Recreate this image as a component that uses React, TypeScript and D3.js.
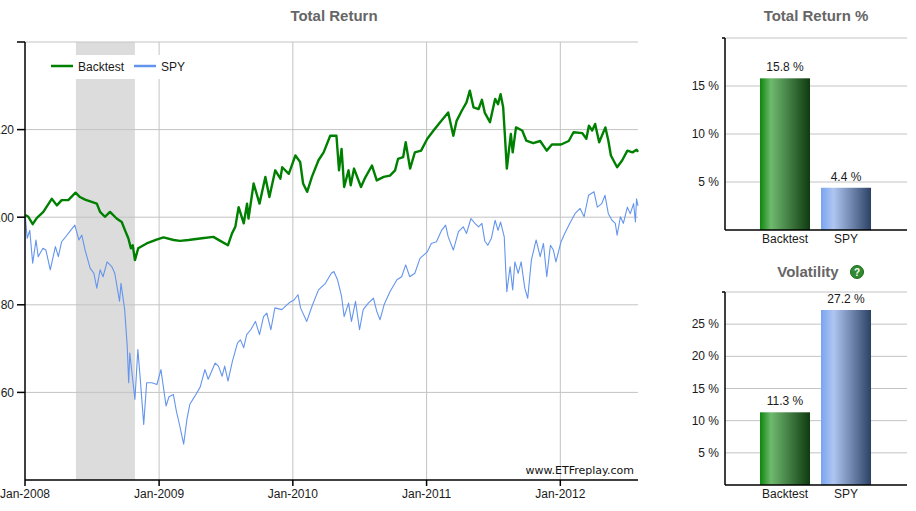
import React from 'react';
import * as d3 from 'd3';

// Total Return (growth of 100)
const backtestSeries: [string, number][] = [
  ['2008-01-02', 100.5], ['2008-01-10', 100.1], ['2008-01-22', 98.4], ['2008-02-02', 99.8],
  ['2008-02-20', 101.2], ['2008-03-14', 104.2], ['2008-03-28', 102.7], ['2008-04-10', 103.9],
  ['2008-04-28', 103.9], ['2008-05-18', 105.6], ['2008-05-30', 104.6], ['2008-06-13', 104.0],
  ['2008-07-01', 103.5], ['2008-07-15', 103.1], ['2008-07-24', 101.2], ['2008-08-06', 100.1],
  ['2008-08-20', 101.2], ['2008-09-07', 99.7], ['2008-09-21', 98.9], ['2008-09-30', 97.0],
  ['2008-10-09', 95.2], ['2008-10-16', 92.9], ['2008-10-21', 93.6], ['2008-10-27', 90.2],
  ['2008-11-05', 92.9], ['2008-11-28', 94.0], ['2008-12-25', 94.9], ['2009-01-13', 95.4],
  ['2009-02-10', 94.8], ['2009-02-27', 94.6], ['2009-03-22', 94.8], ['2009-04-28', 95.2],
  ['2009-05-29', 95.5], ['2009-06-17', 94.6], ['2009-07-08', 93.6], ['2009-07-19', 96.3],
  ['2009-07-28', 97.8], ['2009-08-06', 102.3], ['2009-08-20', 98.6], ['2009-08-29', 103.1],
  ['2009-09-02', 99.7], ['2009-09-16', 107.7], ['2009-10-02', 103.1], ['2009-10-18', 109.2],
  ['2009-10-29', 104.6], ['2009-11-14', 110.7], ['2009-11-28', 108.8], ['2009-12-03', 111.4],
  ['2009-12-21', 109.9], ['2010-01-08', 114.1], ['2010-01-21', 112.6], ['2010-01-29', 107.7],
  ['2010-02-09', 105.8], ['2010-02-22', 109.2], ['2010-03-12', 113.0], ['2010-03-26', 114.8],
  ['2010-04-13', 118.6], ['2010-04-30', 118.6], ['2010-05-07', 110.7], ['2010-05-14', 115.6],
  ['2010-05-21', 106.9], ['2010-06-02', 110.7], ['2010-06-08', 107.3], ['2010-06-17', 111.1],
  ['2010-07-06', 106.9], ['2010-07-16', 108.8], ['2010-08-05', 111.8], ['2010-08-18', 108.4],
  ['2010-09-06', 109.2], ['2010-09-23', 109.5], ['2010-10-07', 110.7], ['2010-10-15', 113.3],
  ['2010-10-29', 113.7], ['2010-11-05', 117.1], ['2010-11-17', 111.1], ['2010-11-30', 114.8],
  ['2010-12-17', 115.2], ['2011-01-03', 117.9], ['2011-01-20', 119.8], ['2011-02-07', 121.7],
  ['2011-03-01', 123.9], ['2011-03-15', 118.6], ['2011-03-24', 122.0], ['2011-04-07', 124.3],
  ['2011-04-20', 126.2], ['2011-04-29', 128.9], ['2011-05-09', 125.1], ['2011-05-23', 124.7],
  ['2011-06-01', 126.8], ['2011-06-09', 123.8], ['2011-06-23', 121.7], ['2011-07-07', 127.0],
  ['2011-07-15', 125.8], ['2011-07-22', 128.1], ['2011-07-29', 125.1], ['2011-08-03', 118.3],
  ['2011-08-08', 111.1], ['2011-08-19', 119.0], ['2011-08-24', 114.8], ['2011-09-02', 120.5],
  ['2011-09-19', 119.8], ['2011-09-30', 117.5], ['2011-10-19', 116.9], ['2011-11-07', 117.4],
  ['2011-11-25', 115.2], ['2011-12-09', 116.6], ['2012-01-03', 116.6], ['2012-01-24', 117.4],
  ['2012-02-06', 119.4], ['2012-03-01', 119.2], ['2012-03-12', 117.9], ['2012-03-19', 120.9],
  ['2012-03-28', 119.8], ['2012-04-05', 121.3], ['2012-04-16', 117.1], ['2012-05-03', 120.5],
  ['2012-05-11', 117.5], ['2012-05-18', 114.1], ['2012-06-04', 111.4], ['2012-06-18', 113.0],
  ['2012-07-02', 115.2], ['2012-07-16', 114.8], ['2012-07-27', 115.4], ['2012-07-31', 114.9],
];

const spySeries: [string, number][] = [
  ['2008-01-02', 100.0], ['2008-01-07', 95.2], ['2008-01-14', 97.0], ['2008-01-22', 89.5],
  ['2008-01-31', 94.8], ['2008-02-06', 91.0], ['2008-02-19', 92.9], ['2008-02-27', 92.5],
  ['2008-03-10', 88.0], ['2008-03-24', 93.3], ['2008-04-01', 91.0], ['2008-04-10', 94.4],
  ['2008-04-18', 95.2], ['2008-05-02', 96.7], ['2008-05-16', 98.2], ['2008-05-27', 94.8],
  ['2008-06-04', 95.9], ['2008-06-13', 92.5], ['2008-06-27', 88.3], ['2008-07-07', 87.2],
  ['2008-07-15', 83.8], ['2008-07-24', 88.0], ['2008-08-01', 86.4], ['2008-08-12', 89.8],
  ['2008-08-25', 88.7], ['2008-09-02', 87.2], ['2008-09-15', 80.8], ['2008-09-19', 84.9],
  ['2008-09-29', 78.9], ['2008-10-06', 70.5], ['2008-10-10', 62.2], ['2008-10-13', 69.0],
  ['2008-10-27', 58.4], ['2008-11-04', 69.8], ['2008-11-10', 63.7], ['2008-11-20', 52.7],
  ['2008-11-28', 62.2], ['2008-12-12', 62.2], ['2008-12-26', 61.8], ['2009-01-06', 65.2],
  ['2009-01-20', 56.9], ['2009-01-28', 59.0], ['2009-02-09', 59.5], ['2009-02-17', 55.8],
  ['2009-02-26', 52.5], ['2009-03-09', 48.2], ['2009-03-18', 53.9], ['2009-03-26', 57.3],
  ['2009-04-09', 59.2], ['2009-04-23', 61.2], ['2009-05-06', 65.2], ['2009-05-15', 63.0],
  ['2009-06-03', 66.7], ['2009-06-12', 66.0], ['2009-06-22', 63.7], ['2009-06-29', 66.0],
  ['2009-07-08', 62.6], ['2009-07-20', 67.1], ['2009-08-03', 71.3], ['2009-08-11', 72.0],
  ['2009-08-20', 70.2], ['2009-08-28', 73.2], ['2009-09-08', 74.3], ['2009-09-21', 76.2],
  ['2009-10-02', 73.2], ['2009-10-13', 77.3], ['2009-10-22', 78.1], ['2009-11-02', 74.3],
  ['2009-11-13', 79.3], ['2009-12-02', 78.9], ['2009-12-21', 80.4], ['2010-01-04', 81.1],
  ['2010-01-15', 82.3], ['2010-01-22', 79.3], ['2010-02-08', 76.2], ['2010-02-22', 79.6],
  ['2010-03-12', 83.4], ['2010-03-31', 84.9], ['2010-04-16', 87.2], ['2010-04-23', 87.6],
  ['2010-05-03', 85.7], ['2010-05-14', 81.9], ['2010-05-21', 77.3], ['2010-06-02', 80.4],
  ['2010-06-10', 76.2], ['2010-06-21', 80.8], ['2010-07-02', 74.3], ['2010-07-12', 78.9],
  ['2010-07-26', 80.4], ['2010-08-09', 81.5], ['2010-08-18', 78.5], ['2010-08-27', 76.6],
  ['2010-09-07', 80.0], ['2010-09-23', 83.0], ['2010-10-12', 85.7], ['2010-10-25', 86.4],
  ['2010-11-05', 89.1], ['2010-11-16', 86.4], ['2010-11-30', 87.2], ['2010-12-14', 90.6],
  ['2011-01-03', 92.1], ['2011-01-14', 94.0], ['2011-01-28', 94.4], ['2011-02-11', 97.0],
  ['2011-02-22', 98.2], ['2011-03-01', 95.5], ['2011-03-15', 92.5], ['2011-03-29', 96.7],
  ['2011-04-11', 97.8], ['2011-04-20', 96.3], ['2011-05-02', 99.7], ['2011-05-13', 98.6],
  ['2011-05-23', 97.8], ['2011-06-01', 98.6], ['2011-06-09', 94.5], ['2011-06-17', 93.6],
  ['2011-06-27', 95.2], ['2011-07-07', 99.3], ['2011-07-15', 97.0], ['2011-07-22', 98.9],
  ['2011-08-01', 95.5], ['2011-08-05', 88.0], ['2011-08-08', 83.0], ['2011-08-17', 88.7],
  ['2011-08-24', 83.4], ['2011-08-30', 89.8], ['2011-09-08', 87.2], ['2011-09-16', 89.8],
  ['2011-09-26', 83.8], ['2011-10-04', 81.5], ['2011-10-14', 90.2], ['2011-10-27', 94.8],
  ['2011-11-07', 91.0], ['2011-11-16', 94.0], ['2011-11-25', 86.4], ['2011-12-05', 93.6],
  ['2011-12-13', 92.5], ['2011-12-20', 89.8], ['2012-01-03', 94.4], ['2012-01-13', 96.3],
  ['2012-01-27', 98.6], ['2012-02-10', 100.8], ['2012-02-24', 102.0], ['2012-03-06', 100.1],
  ['2012-03-18', 105.0], ['2012-04-02', 105.8], ['2012-04-11', 102.3], ['2012-04-23', 103.1],
  ['2012-05-02', 105.0], ['2012-05-11', 100.8], ['2012-05-21', 99.3], ['2012-05-30', 98.6],
  ['2012-06-04', 95.9], ['2012-06-13', 100.1], ['2012-06-21', 98.6], ['2012-07-02', 102.3],
  ['2012-07-10', 100.8], ['2012-07-19', 103.1], ['2012-07-24', 98.9], ['2012-07-27', 104.2],
  ['2012-07-31', 102.6],
];

// shaded period
const shadeRange = ['2008-05-19', '2008-10-27'];
const yTickValues = [60, 80, 100, 120];
const yearTicks = ['2008-01-01', '2009-01-01', '2010-01-01', '2011-01-01', '2012-01-01'];

const barCategories = ['Backtest', 'SPY'];
const totalReturnPct = [15.8, 4.4];
const volatilityPct = [11.3, 27.2];
const totalReturnTicks = [5, 10, 15];
const volatilityTicks = [5, 10, 15, 20, 25];

const FONT = '"Liberation Sans", Arial, sans-serif';
const GRID = '#c3c3c3';
const TEXT = '#1a1a1a';
const GREEN = '#008000';
const BLUE = '#6495ed';

const parse = d3.timeParse('%Y-%m-%d');

function BarPanel(props: {
  title: string; values: number[]; ticks: number[]; max: number;
  top: number; bottom: number; titleY: number; help?: boolean;
}) {
  const { title, values, ticks, max, top, bottom, titleY, help } = props;
  const left = 725, right = 907;
  const y = d3.scaleLinear().domain([0, max]).range([bottom, top]);
  const x = d3.scaleBand().domain(barCategories).range([749, 882]).paddingInner(0.18).paddingOuter(0.18);
  const grads = ['url(#gradGreen)', 'url(#gradBlue)'];
  return (
    <g>
      <text x={help ? 808 : 816} y={titleY} textAnchor="middle" fontFamily={FONT} fontSize={15}
        fontWeight="bold" fill="#666">{title}</text>
      {help && (
        <g transform={`translate(857,${titleY - 5})`}>
          <circle r={6.5} fill="#2f8a2f" stroke="#1d6b1d" />
          <text y={4} textAnchor="middle" fontFamily={FONT} fontSize={10} fontWeight="bold" fill="#fff">?</text>
        </g>
      )}
      {[...ticks, max].map(t => (
        <line key={t} x1={left} x2={right} y1={y(t)} y2={y(t)} stroke={GRID} />
      ))}
      {ticks.map(t => (
        <text key={t} x={719} y={y(t) + 4} textAnchor="end" fontFamily={FONT} fontSize={12} fill={TEXT}>{t} %</text>
      ))}
      {values.map((v, i) => (
        <g key={i}>
          <rect x={x(barCategories[i])} y={y(v)} width={x.bandwidth()} height={bottom - y(v)} fill={grads[i]} />
          <text x={x(barCategories[i])! + x.bandwidth() / 2} y={y(v) - 7} textAnchor="middle"
            fontFamily={FONT} fontSize={12} fill={TEXT}>{v.toFixed(1)} %</text>
          <text x={x(barCategories[i])! + x.bandwidth() / 2} y={bottom + 13} textAnchor="middle"
            fontFamily={FONT} fontSize={12} fill={TEXT}>{barCategories[i]}</text>
        </g>
      ))}
      <line x1={left} x2={left} y1={top} y2={bottom} stroke="#000" strokeWidth={1.5} />
      <line x1={left - 3} x2={left} y1={top} y2={top} stroke="#000" strokeWidth={1.5} />
      <line x1={left} x2={right} y1={bottom} y2={bottom} stroke="#000" strokeWidth={1.5} />
    </g>
  );
}

export default function App() {
  const x = d3.scaleTime().domain([parse('2008-01-01')!, parse('2012-07-31')!]).range([25, 638]);
  const y = d3.scaleLinear().domain([40, 140]).range([480, 42]);
  const line = d3.line<[string, number]>().x(d => x(parse(d[0])!)).y(d => y(d[1]));
  const fmt = d3.timeFormat('%b-%Y');

  return (
    <svg width={916} height={511} style={{ position: 'absolute', left: 0, top: 0, background: '#fff' }}>
      <defs>
        <linearGradient id="gradGreen" x1="0" x2="1" y1="0" y2="0">
          <stop offset="0" stopColor="#0d870d" />
          <stop offset="0.22" stopColor="#6fb96f" />
          <stop offset="1" stopColor="#0f3a10" />
        </linearGradient>
        <linearGradient id="gradBlue" x1="0" x2="1" y1="0" y2="0">
          <stop offset="0" stopColor="#79a3ef" />
          <stop offset="0.25" stopColor="#afc6f1" />
          <stop offset="1" stopColor="#2c4165" />
        </linearGradient>
      </defs>

      <text x={334} y={21} textAnchor="middle" fontFamily={FONT} fontSize={15} fontWeight="bold" fill="#666">Total Return</text>

      {/* shaded band */}
      <rect x={x(parse(shadeRange[0])!)} y={42} width={x(parse(shadeRange[1])!) - x(parse(shadeRange[0])!)}
        height={438} fill="#dcdcdc" />

      {/* grid */}
      {[...yTickValues, 140].map(v => (
        <line key={v} x1={25} x2={638} y1={y(v)} y2={y(v)} stroke={GRID} />
      ))}
      {yearTicks.slice(1).map(d => (
        <line key={d} x1={x(parse(d)!)} x2={x(parse(d)!)} y1={42} y2={480} stroke={GRID} />
      ))}

      {/* legend */}
      <rect x={45} y={55} width={150} height={24} fill="#fff" />
      <line x1={51} x2={73} y1={66} y2={66} stroke={GREEN} strokeWidth={2.5} />
      <text x={78} y={71} fontFamily={FONT} fontSize={12} fill={TEXT}>Backtest</text>
      <line x1={134} x2={156} y1={66} y2={66} stroke={BLUE} strokeWidth={2.5} />
      <text x={161} y={71} fontFamily={FONT} fontSize={12} fill={TEXT}>SPY</text>

      {/* series */}
      <path d={line(spySeries)!} fill="none" stroke={BLUE} strokeWidth={1.1} strokeLinejoin="round" />
      <path d={line(backtestSeries)!} fill="none" stroke={GREEN} strokeWidth={2.4} strokeLinejoin="round" />

      {/* axes */}
      <line x1={25} x2={25} y1={42} y2={480} stroke="#000" strokeWidth={1.5} />
      <line x1={17} x2={25} y1={42} y2={42} stroke="#000" strokeWidth={1.5} />
      {yTickValues.map(v => (
        <g key={v}>
          <line x1={17} x2={25} y1={y(v)} y2={y(v)} stroke="#000" strokeWidth={1.5} />
          <text x={14} y={y(v) + 4.5} textAnchor="end" fontFamily={FONT} fontSize={12} fill={TEXT}>{v}</text>
        </g>
      ))}
      <line x1={25} x2={638} y1={480} y2={480} stroke="#000" strokeWidth={1.5} />
      {yearTicks.map(d => (
        <g key={d}>
          <line x1={x(parse(d)!)} x2={x(parse(d)!)} y1={480} y2={486} stroke="#000" strokeWidth={1.5} />
          <text x={x(parse(d)!)} y={498} textAnchor="middle" fontFamily={FONT} fontSize={12} fill={TEXT}>
            {fmt(parse(d)!)}
          </text>
        </g>
      ))}
      <text x={634} y={474} textAnchor="end" fontFamily='"DejaVu Sans", Verdana, sans-serif' fontSize={11} fill="#111">
        www.ETFreplay.com
      </text>

      <BarPanel title="Total Return %" values={totalReturnPct} ticks={totalReturnTicks} max={20}
        top={38} bottom={230} titleY={21} />
      <BarPanel title="Volatility" values={volatilityPct} ticks={volatilityTicks} max={30}
        top={292} bottom={485} titleY={277} help />
    </svg>
  );
}
